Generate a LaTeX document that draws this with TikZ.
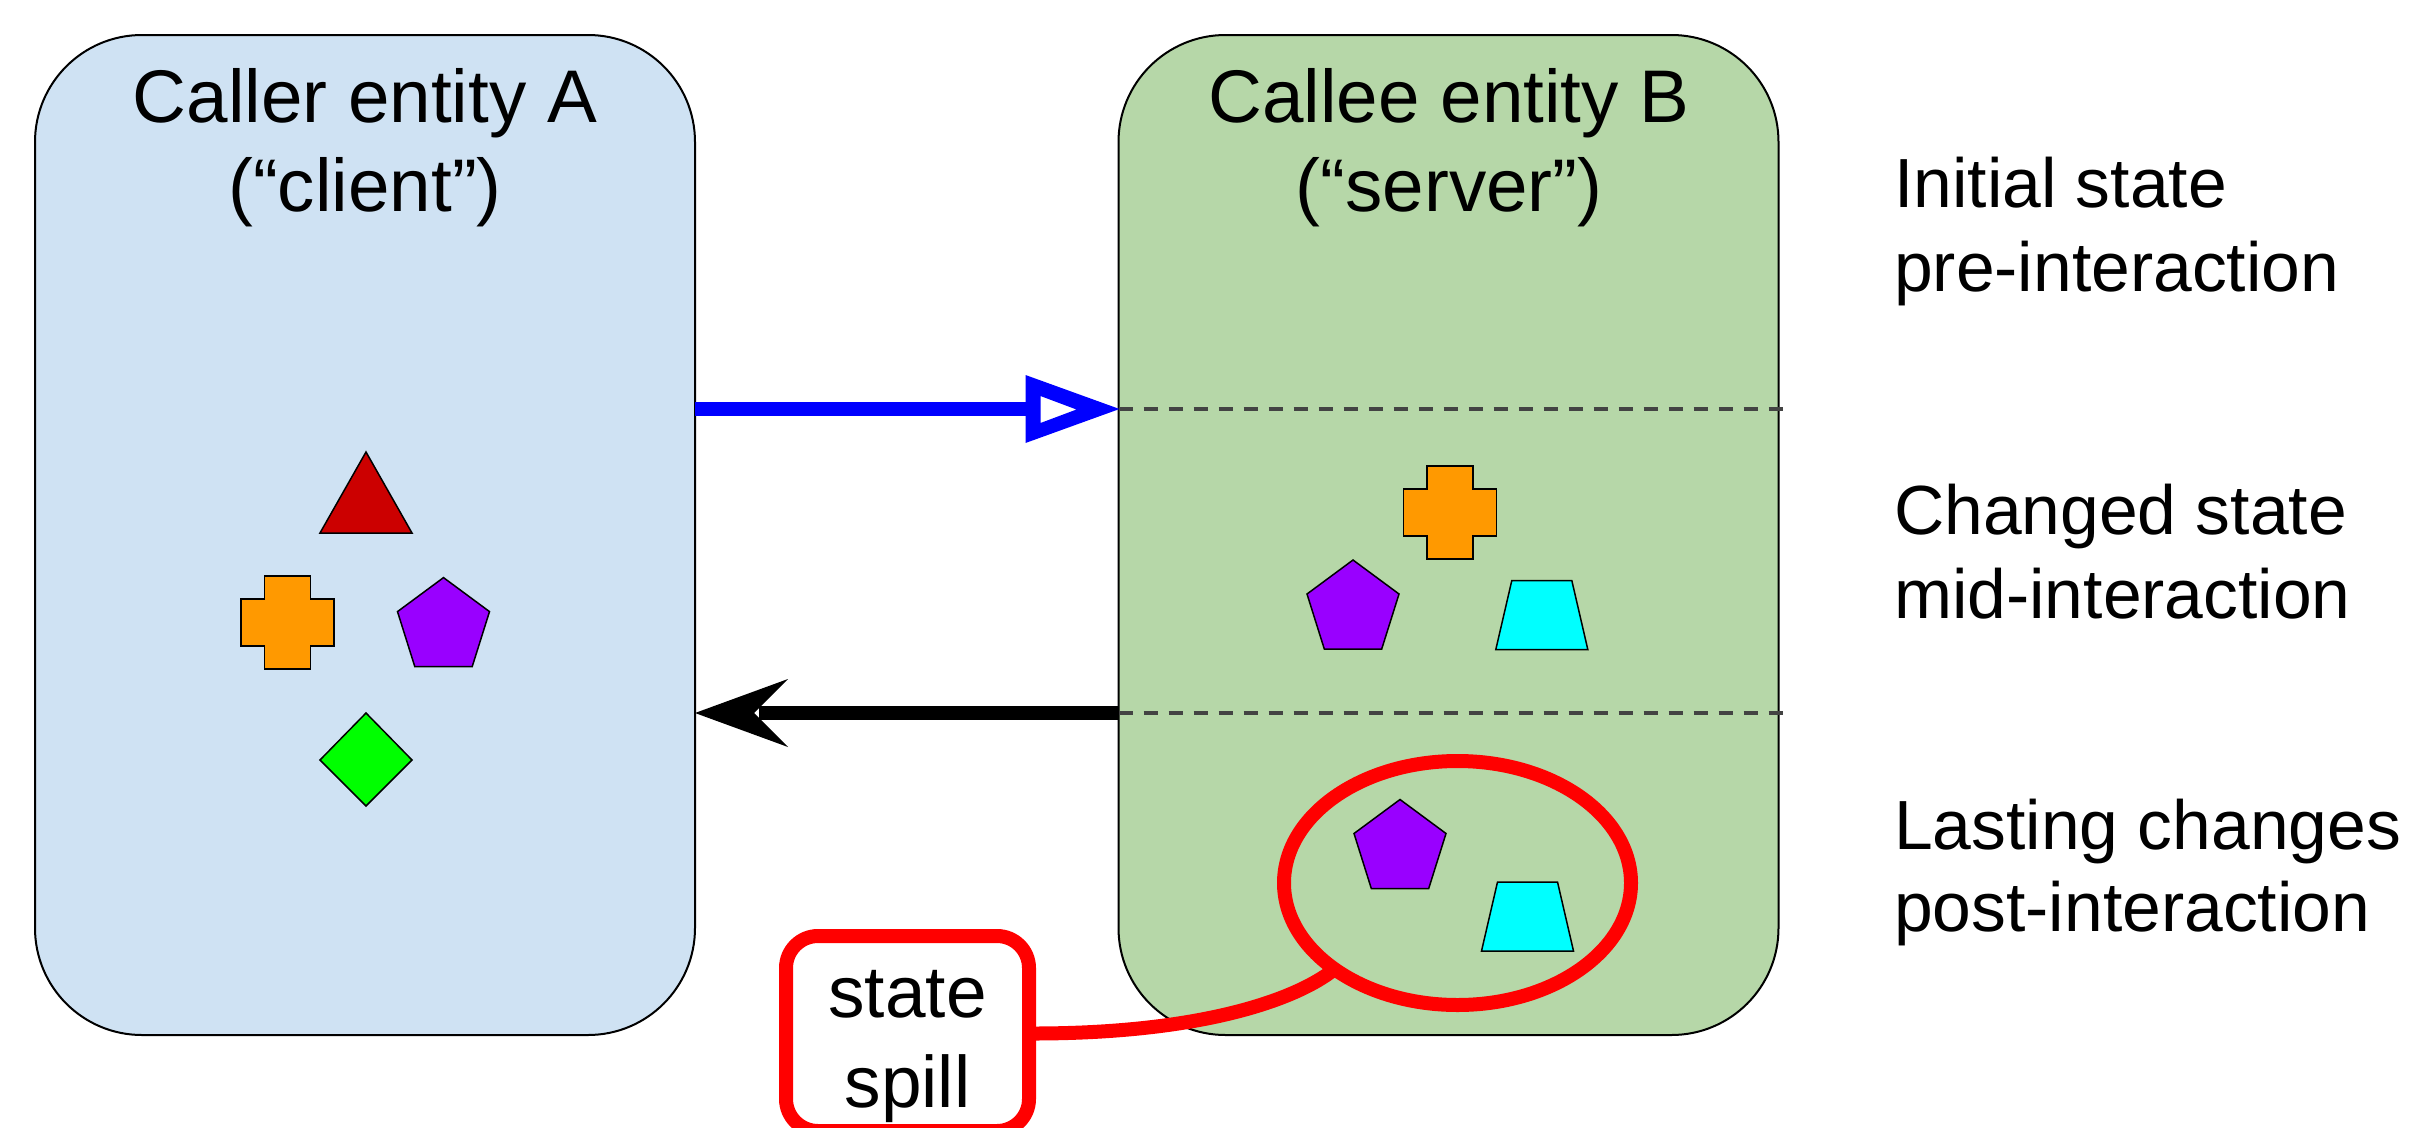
\documentclass[tikz,border=0pt]{standalone}
\usepackage{fontspec}
\setmainfont{Liberation Sans}
\usetikzlibrary{shapes.geometric}
\definecolor{boxA}{HTML}{CFE2F3}
\definecolor{boxB}{HTML}{B6D7A8}
\definecolor{cred}{HTML}{CC0000}
\definecolor{corange}{HTML}{FF9900}
\definecolor{cpurple}{HTML}{9900FF}
\definecolor{cgreen}{HTML}{00FF00}
\definecolor{ccyan}{HTML}{00FFFF}
\definecolor{dashgray}{HTML}{434343}
\definecolor{spillred}{HTML}{FF0000}
\definecolor{callblue}{HTML}{0000FF}
\begin{document}
\begin{tikzpicture}[x=1pt,y=-1pt,
  entity/.style={draw=black, line width=2pt, rounded corners=107pt, minimum width=660pt, minimum height=1000pt, inner sep=0pt, outer sep=0pt},
  title/.style={font=\fontsize{74.6}{89}\selectfont, anchor=base, inner sep=0pt},
  phase/.style={font=\fontsize{69.6}{84}\selectfont, anchor=base west, inner sep=0pt},
  spilltext/.style={font=\fontsize{73}{89}\selectfont, anchor=base, inner sep=0pt},
  token/.style={draw=black, line width=1.5pt, line join=miter},
  divider/.style={draw=dashgray, line width=3.5pt, dash pattern=on 14pt off 11pt},
  callline/.style={draw=callblue, line width=14pt},
  retline/.style={draw=black, line width=14pt},
  spillline/.style={draw=spillred, line width=14pt},
  plusshape/.pic={\filldraw[token, fill=corange] (-23,-46.5) -- (23,-46.5) -- (23,-23.5) -- (46.5,-23.5) -- (46.5,23.5) -- (23,23.5) -- (23,46.5) -- (-23,46.5) -- (-23,23.5) -- (-46.5,23.5) -- (-46.5,-23.5) -- (-23,-23.5) -- cycle;},
  pentshape/.pic={\filldraw[token, fill=cpurple] (0,0) -- (46,34) -- (28.7,89) -- (-28.7,89) -- (-46,34) -- cycle;},
  trapshape/.pic={\filldraw[token, fill=ccyan] (-30,0) -- (30,0) -- (46,69) -- (-46,69) -- cycle;}
]
\useasboundingbox[fill=white] (0,0) rectangle (2409,1127);

% entities
\node[entity, fill=boxA] (A) at (365,535) {};
\node[entity, fill=boxB] (B) at (1448.5,535) {};

\node[title] (tA1) at (365,122) {Caller entity A};
\node[title] (tA2) at (365,211) {(“client”)};
\node[title] (tB1) at (1449,122) {Callee entity B};
\node[title] (tB2) at (1449,211) {(“server”)};

% phase labels
\node[phase] (p1) at (1894,207) {Initial state};
\node[phase] (p2) at (1894,291) {pre-interaction};
\node[phase] (p3) at (1894,534) {Changed state};
\node[phase] (p4) at (1894,618) {mid-interaction};
\node[phase] (p5) at (1894,849) {Lasting changes};
\node[phase] (p6) at (1894,931) {post-interaction};

% levels
\coordinate (y1) at (0,409);
\coordinate (y2) at (0,713);

% dividers
\draw[divider] (B.west |- y1) -- ([xshift=4pt]B.east |- y1);
\draw[divider] (B.west |- y2) -- ([xshift=4pt]B.east |- y2);

% call arrow (A -> B)
\draw[callline] (A.east |- y1) -- ([xshift=-88pt]B.west |- y1);
\begin{scope}[shift={(B.west |- y1)}]
  \fill[callblue, even odd rule] (-93,-34) -- (1,0) -- (-93,34) -- cycle
     (-78,-13) -- (-42,0.5) -- (-78,14) -- cycle;
\end{scope}

% return arrow (B -> A)
\draw[retline] (B.west |- y2) -- ([xshift=64pt]A.east |- y2);
\begin{scope}[shift={(A.east |- y2)}]
  \fill[black] (0,0) -- (93,-34) -- (59,0) -- (93,34) -- cycle;
\end{scope}

% tokens in A
\filldraw[token, fill=cred] (366,452) -- (412,533) -- (320,533) -- cycle;
\pic at (287.5,622.5) {plusshape};
\pic at (443.5,577.6) {pentshape};
\filldraw[token, fill=cgreen] (366,713) -- (412,760) -- (366,806) -- (320,760) -- cycle;

% tokens in B (mid)
\pic at (1450,512.5) {plusshape};
\pic at (1353,560) {pentshape};
\pic at (1541.8,580.5) {trapshape};

% tokens in B (post)
\pic at (1400,799.5) {pentshape};
\pic at (1527.5,882) {trapshape};

% state spill
\node[ellipse, draw=spillred, line width=14pt, minimum width=347pt, minimum height=244pt, inner sep=0pt, outer sep=0pt] (E) at (1457.5,883) {};
\node[draw=spillred, fill=white, line width=14pt, rounded corners=32pt, minimum width=243pt, minimum height=195pt, inner sep=0pt, outer sep=0pt] (S) at (907.5,1033.5) {};
\node[spilltext] (s1) at (907.5,1017) {state};
\node[spilltext] (s2) at (907.5,1107) {spill};
\draw[spillline] (S.east) .. controls (1200,1034) and (1296,1000) .. (E.215);
\end{tikzpicture}
\end{document}
